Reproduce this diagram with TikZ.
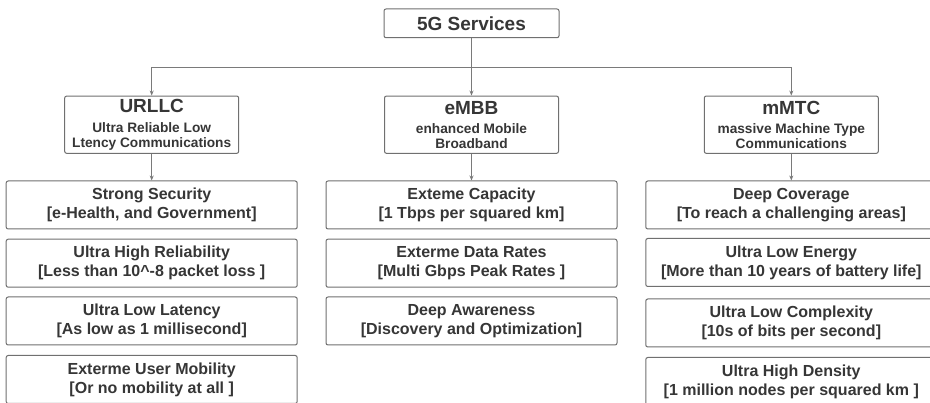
\documentclass[tikz,border=0pt]{standalone}
\usepackage{fontspec}
\setmainfont{Liberation Sans}
\usetikzlibrary{arrows.meta}
\definecolor{bordergray}{HTML}{707070}
\definecolor{linegray}{HTML}{7A7A7A}
\definecolor{txt}{HTML}{363636}
\begin{document}
\begin{tikzpicture}[x=1pt,y=-1pt,
  box/.style={draw=bordergray, line width=1pt, rounded corners=2pt, fill=white, inner sep=0pt, align=center, text=txt},
  topbox/.style={box, minimum width=175pt, minimum height=28.7pt, font=\fontsize{19}{22}\selectfont\bfseries},
  catbox/.style={box, minimum width=174pt, minimum height=57.3pt, font=\fontsize{13.7}{15}\selectfont\bfseries},
  itembox/.style={box, minimum width=291pt, minimum height=48pt, font=\fontsize{16}{19}\selectfont\bfseries},
  plain/.style={draw=linegray, line width=0.8pt},
  conn/.style={plain, -{Stealth[length=5pt,width=4pt]}}
]
\useasboundingbox (0,0) rectangle (930,403);
\fill[white] (0,0) rectangle (930,403);

\node[topbox] (top) at (471.5,23.35) {5G Services};

\newcommand{\cattitle}[1]{{\fontsize{19}{19}\selectfont #1}\\[4.3pt]}
\node[catbox] (urllc) at (151.7,124.7) {\cattitle{URLLC}Ultra Reliable Low\\Ltency Communications};
\node[catbox] (embb) at (471.5,124.7) {\cattitle{eMBB}enhanced Mobile\\Broadband};
\node[catbox] (mmtc) at (791.3,124.7) {\cattitle{mMTC}massive Machine Type\\Communications};

\coordinate (junc) at (471.5,67.7);
\draw[plain] (top.south) -- (junc);
\draw[conn] (junc) -- (embb.north);
\draw[conn] (junc) -| (urllc.north);
\draw[conn] (junc) -| (mmtc.north);

% URLLC column
\node[itembox] (u1) at (151.7,205) {Strong Security\\{[e-Health, and Government]}};
\node[itembox] (u2) at (151.7,263.2) {Ultra High Reliability\\{[Less than 10\^{}-8 packet loss ]}};
\node[itembox] (u3) at (151.7,321) {Ultra Low Latency\\{[As low as 1 millisecond]}};
\node[itembox] (u4) at (151.7,379.5) {Exterme User Mobility\\{[Or no mobility at all ]}};

% eMBB column
\node[itembox] (e1) at (471.5,205) {Exteme Capacity\\{[1 Tbps per squared km]}};
\node[itembox] (e2) at (471.5,263.2) {Exterme Data Rates\\{[Multi Gbps Peak Rates ]}};
\node[itembox] (e3) at (471.5,321) {Deep Awareness\\{[Discovery and Optimization]}};

% mMTC column
\node[itembox] (m1) at (791.3,205) {Deep Coverage\\{[To reach a challenging areas]}};
\node[itembox] (m2) at (791.3,262.5) {Ultra Low Energy\\{[More than 10 years of battery life]}};
\node[itembox] (m3) at (791.3,323) {Ultra Low Complexity\\{[10s of bits per second]}};
\node[itembox] (m4) at (791.3,381.5) {Ultra High Density\\{[1 million nodes per squared km ]}};

\draw[conn] (urllc.south) -- (u1.north);
\draw[conn] (embb.south) -- (e1.north);
\draw[conn] (mmtc.south) -- (m1.north);
\end{tikzpicture}
\end{document}
